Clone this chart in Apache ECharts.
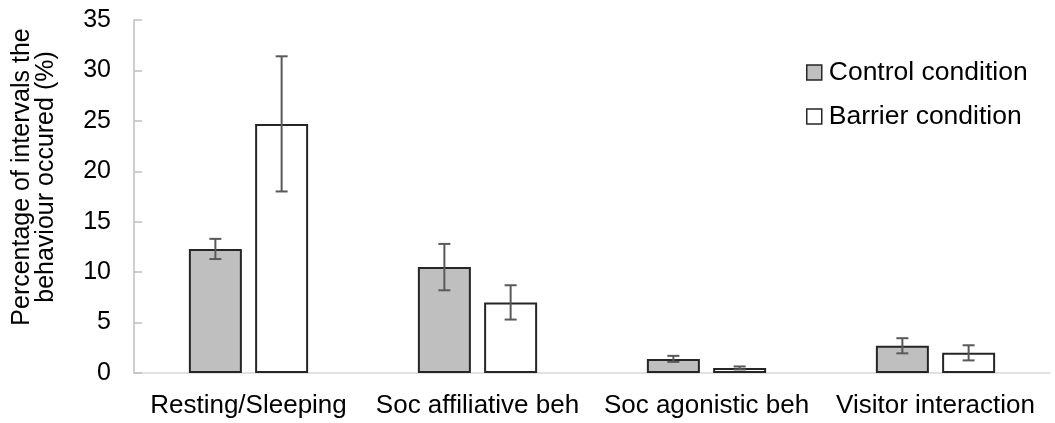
<!DOCTYPE html>
<html><head><meta charset="utf-8">
<script src="https://cdn.jsdelivr.net/npm/echarts@6/dist/echarts.min.js"></script>
<style>html,body{margin:0;padding:0;background:#fff}#c{width:1055px;height:423px}</style>
</head><body><div id="c"></div>
<script>
var categories = ['Resting/Sleeping', 'Soc affiliative beh', 'Soc agonistic beh', 'Visitor interaction'];
var controlValues = [12.3, 10.5, 1.4, 2.7];
var controlErrors = [1.0, 2.3, 0.3, 0.75];
var barrierValues = [24.7, 7.0, 0.5, 2.0];
var barrierErrors = [6.7, 1.7, 0.15, 0.75];
var yTicks = [0, 5, 10, 15, 20, 25, 30, 35];
var yAxisTitle = 'Percentage of intervals the\nbehaviour occured (%)';

var BAR_W = 53, GAP = 0.25;
var OFFSET = BAR_W * (1 + GAP) / 2;
var FONT = 'Liberation Sans, Arial, sans-serif';

function errSeries(vals, errs, side) {
  return {
    type: 'custom',
    silent: true,
    z: 10,
    data: vals.map(function (v, i) { return [i, v - errs[i], v + errs[i]]; }),
    renderItem: function (params, api) {
      var lo = api.coord([api.value(0), api.value(1)]);
      var hi = api.coord([api.value(0), api.value(2)]);
      var x = lo[0] + side * OFFSET;
      var cap = 6;
      var st = { stroke: '#595959', lineWidth: 2 };
      return { type: 'group', children: [
        { type: 'line', shape: { x1: x, y1: lo[1], x2: x, y2: hi[1] }, style: st },
        { type: 'line', shape: { x1: x - cap, y1: lo[1], x2: x + cap, y2: lo[1] }, style: st },
        { type: 'line', shape: { x1: x - cap, y1: hi[1], x2: x + cap, y2: hi[1] }, style: st }
      ]};
    },
    encode: { x: 0, y: [1, 2] }
  };
}

var chart = echarts.init(document.getElementById('c'));
chart.setOption({
  animation: false,
  textStyle: { fontFamily: FONT },
  grid: { left: 134, right: 5, top: 20, bottom: 50, containLabel: false, outerBoundsMode: 'none' },
  legend: {
    orient: 'vertical', left: 806, top: 59, padding: 0, itemWidth: 15, itemHeight: 15, itemGap: 17,
    textStyle: { fontFamily: FONT, fontSize: 26.5, color: '#000', padding: [0, 0, 0, 2] },
    data: [
      { name: 'Control condition', icon: 'rect', itemStyle: { color: '#bfbfbf', borderColor: '#262626', borderWidth: 1.5 } },
      { name: 'Barrier condition', icon: 'rect', itemStyle: { color: '#fff', borderColor: '#262626', borderWidth: 1.5 } }
    ]
  },
  graphic: [{
    type: 'text', x: 34, y: 177, rotation: Math.PI / 2,
    style: { text: yAxisTitle, fontFamily: FONT, fontSize: 25, lineHeight: 24, fill: '#000',
      align: 'center', verticalAlign: 'middle' }
  }],
  xAxis: {
    type: 'category', data: categories,
    axisLine: { lineStyle: { color: '#d9d9d9', width: 1.5 } },
    axisTick: { show: false },
    axisLabel: { fontFamily: FONT, fontSize: 26, color: '#000', margin: 20, interval: 0 }
  },
  yAxis: {
    type: 'value', min: 0, max: 35, interval: 5,
    axisLine: { show: true, lineStyle: { color: '#bfbfbf', width: 1.5 } },
    axisTick: { show: true, inside: true, length: 8, lineStyle: { color: '#bfbfbf', width: 1.5 } },
    splitLine: { show: false },
    axisLabel: { fontFamily: FONT, fontSize: 25, color: '#000', margin: 23,
      formatter: function (v) { return yTicks.indexOf(v) >= 0 ? String(v) : ''; } }
  },
  series: [
    { name: 'Control condition', type: 'bar', data: controlValues, barWidth: BAR_W, barGap: '25%',
      itemStyle: { color: '#bfbfbf', borderColor: '#262626', borderWidth: 2 } },
    { name: 'Barrier condition', type: 'bar', data: barrierValues, barWidth: BAR_W,
      itemStyle: { color: '#fff', borderColor: '#262626', borderWidth: 2 } },
    errSeries(controlValues, controlErrors, -1),
    errSeries(barrierValues, barrierErrors, 1)
  ]
});
</script></body></html>
